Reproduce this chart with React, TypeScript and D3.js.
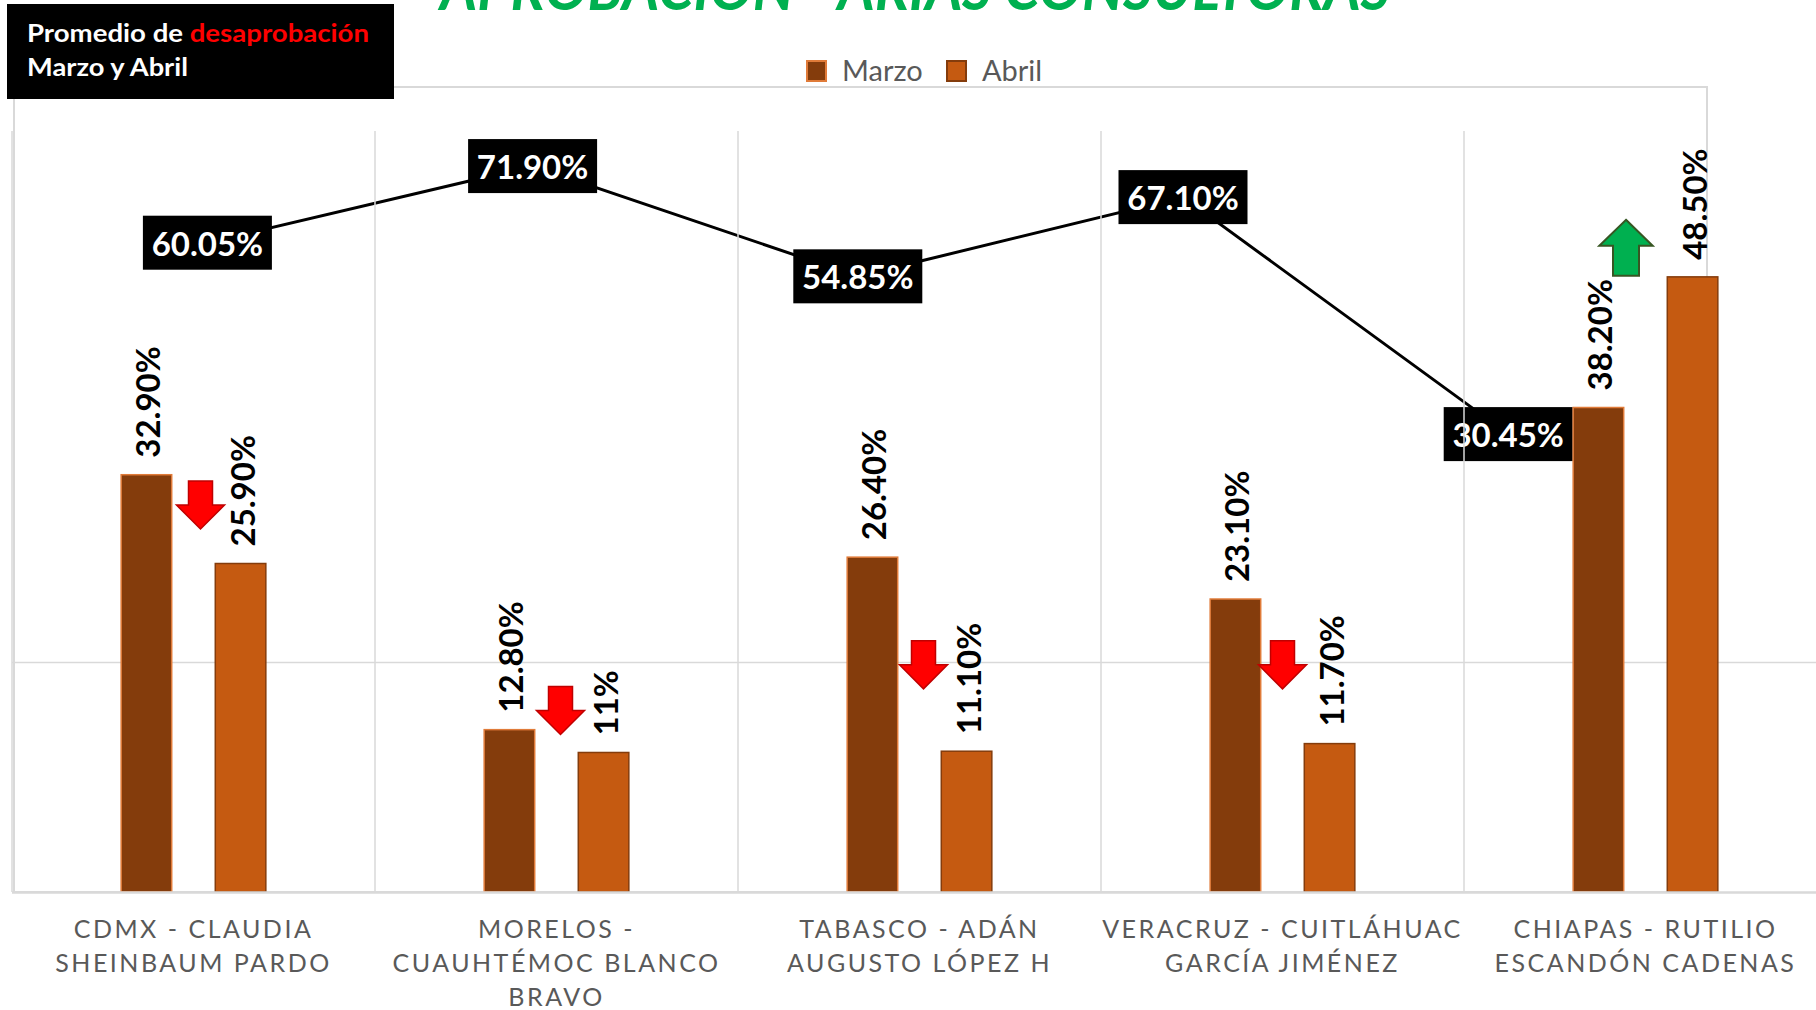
import React from "react";
import * as d3 from "d3";

// ---------- data ----------
const categories = [
  "CDMX - CLAUDIA SHEINBAUM PARDO",
  "MORELOS - CUAUHTÉMOC BLANCO BRAVO",
  "TABASCO - ADÁN AUGUSTO LÓPEZ H",
  "VERACRUZ - CUITLÁHUAC GARCÍA JIMÉNEZ",
  "CHIAPAS - RUTILIO ESCANDÓN CADENAS",
];
const categoryLines = [
  ["CDMX - CLAUDIA", "SHEINBAUM PARDO"],
  ["MORELOS -", "CUAUHTÉMOC BLANCO", "BRAVO"],
  ["TABASCO - ADÁN", "AUGUSTO LÓPEZ H"],
  ["VERACRUZ - CUITLÁHUAC", "GARCÍA JIMÉNEZ"],
  ["CHIAPAS - RUTILIO", "ESCANDÓN CADENAS"],
];
const seriesNames = ["Marzo", "Abril"];
const marzo = [32.9, 12.8, 26.4, 23.1, 38.2];
const abril = [25.9, 11, 11.1, 11.7, 48.5];
const marzoLabels = ["32.90%", "12.80%", "26.40%", "23.10%", "38.20%"];
const abrilLabels = ["25.90%", "11%", "11.10%", "11.70%", "48.50%"];
const promedio = [60.05, 71.9, 54.85, 67.1, 30.45];
const promedioLabels = ["60.05%", "71.90%", "54.85%", "67.10%", "30.45%"];
// trend arrows (annotation): direction and level (top of arrow, in bar-axis %)
const arrowDirections = ["down", "down", "down", "down", "up"];
const arrowLevels = [32.4, 16.2, 19.8, 19.8, 53.0];
const arrowShift = [7, 4, 4, 0, -19.5];
const gridValues = [18.1];

const title = "APROBACIÓN - ARIAS CONSULTORAS";

// ---------- styles ----------
const FONT = "Lato, 'Open Sans', sans-serif";
const COLORS: Record<string, { fill: string; stroke: string }> = {
  Marzo: { fill: "#843C0C", stroke: "#E07B39" },
  Abril: { fill: "#C55A11", stroke: "#843C0C" },
};
const GRID = "#D9D9D9";

export default function App() {
  const W = 1816;
  const H = 1010;

  const x0 = d3.scaleBand<string>().domain(categories).range([12, 1827]).padding(0);
  const x1 = d3
    .scaleBand<string>()
    .domain(seriesNames)
    .range([0, x0.bandwidth()])
    .paddingInner(0.463)
    .paddingOuter(1.16);
  const y = d3.scaleLinear().domain([0, 60]).range([892, 131]);

  const xLine = d3.scalePoint<string>().domain(categories).range([44.8, 1670.8]).padding(0.5);
  const yLine = d3.scaleLinear().domain([0, 80]).range([631, 113.7]);
  const linePath = d3
    .line<number>()
    .x((_, i) => xLine(categories[i])!)
    .y((d) => yLine(d))(promedio)!;

  const values: Record<string, number[]> = { Marzo: marzo, Abril: abril };
  const labels: Record<string, string[]> = { Marzo: marzoLabels, Abril: abrilLabels };

  const boxW = 129;
  const boxH = 54;

  const downArrow = (cx: number, top: number) =>
    `M${cx - 12},${top} L${cx + 12},${top} L${cx + 12},${top + 24} L${cx + 24},${top + 24} L${cx},${top + 48} L${cx - 24},${top + 24} L${cx - 12},${top + 24} Z`;
  const upArrow = (cx: number, top: number) =>
    `M${cx},${top} L${cx + 26.7},${top + 26} L${cx + 13},${top + 26} L${cx + 13},${top + 56} L${cx - 13},${top + 56} L${cx - 13},${top + 26} L${cx - 26.7},${top + 26} Z`;

  const vGrid = [...categories.map((c) => x0(c)!), x0.range()[1]];

  return (
    <svg
      width={W}
      height={H}
      viewBox={`0 0 ${W} ${H}`}
      style={{ position: "absolute", left: 0, top: 0, background: "#fff", fontFamily: FONT }}
    >
      <rect x={0} y={0} width={W} height={H} fill="#fff" />

      {/* title (clipped at top) */}
      <text
        x={440}
        y={9.5}
        textLength={950}
        lengthAdjust="spacingAndGlyphs"
        fill="#00B050"
        fontSize={62}
        fontWeight={700}
        fontStyle="italic"
      >
        {title}
      </text>

      {/* overlay chart border */}
      <rect x={14} y={87} width={1707 - 14} height={892 - 87} fill="none" stroke={GRID} strokeWidth={2} />

      {/* line series */}
      <path d={linePath} fill="none" stroke="#000" strokeWidth={3} />
      {promedio.map((v, i) => {
        const cx = xLine(categories[i])!;
        const cy = yLine(v);
        return (
          <g key={"pl" + i}>
            <rect x={cx - boxW / 2} y={cy - boxH / 2} width={boxW} height={boxH} fill="#000" />
            <text
              x={cx}
              y={cy}
              textAnchor="middle"
              dominantBaseline="central"
              fill="#fff"
              fontSize={33}
              fontWeight={700}
            >
              {promedioLabels[i]}
            </text>
          </g>
        );
      })}

      {/* gridlines */}
      {vGrid.map((gx, i) => (
        <line key={"vg" + i} x1={gx} x2={gx} y1={131} y2={892} stroke={GRID} strokeWidth={1.5} />
      ))}
      {gridValues.map((g, i) => (
        <line key={"hg" + i} x1={12} x2={W} y1={y(g)} y2={y(g)} stroke={GRID} strokeWidth={1.5} />
      ))}

      {/* bars */}
      {categories.map((c, i) => (
        <g key={"b" + i}>
          {seriesNames.map((s) => {
            const bx = x0(c)! + x1(s)!;
            const v = values[s][i];
            const top = y(v);
            return (
              <g key={s}>
                <rect
                  x={bx}
                  y={top}
                  width={x1.bandwidth()}
                  height={y(0) - top}
                  fill={COLORS[s].fill}
                  stroke={COLORS[s].stroke}
                  strokeWidth={1.5}
                />
                <text
                  transform={`translate(${bx + x1.bandwidth() / 2 + 1},${top - 17}) rotate(-90)`}
                  textAnchor="start"
                  dominantBaseline="central"
                  fill="#000"
                  fontSize={33}
                  fontWeight={700}
                >
                  {labels[s][i]}
                </text>
              </g>
            );
          })}
        </g>
      ))}

      {/* baseline */}
      <line x1={12} x2={W} y1={y(0) + 0.5} y2={y(0) + 0.5} stroke={GRID} strokeWidth={2.5} />

      {/* arrows */}
      {categories.map((c, i) => {
        const cx = x0(c)! + x0.bandwidth() / 2 + arrowShift[i];
        const top = y(arrowLevels[i]);
        return arrowDirections[i] === "down" ? (
          <path key={"ar" + i} d={downArrow(cx, top)} fill="#FF0000" stroke="#C00000" strokeWidth={1.5} />
        ) : (
          <path key={"ar" + i} d={upArrow(cx, top)} fill="#00B050" stroke="#375623" strokeWidth={2} />
        );
      })}

      {/* category labels */}
      {categories.map((c, i) => {
        const cx = x0(c)! + x0.bandwidth() / 2;
        return (
          <text key={"cl" + i} textAnchor="middle" fill="#595959" fontSize={25} letterSpacing={2.5}>
            {categoryLines[i].map((ln, j) => (
              <tspan key={j} x={cx} y={938 + j * 34}>
                {ln}
              </tspan>
            ))}
          </text>
        );
      })}

      {/* legend */}
      {seriesNames.map((s, i) => {
        const lx = [807, 947][i];
        return (
          <g key={"lg" + s}>
            <rect x={lx} y={61} width={19} height={20} fill={COLORS[s].fill} stroke={COLORS[s].stroke} strokeWidth={2} />
            <text x={lx + 35} y={81} fill="#595959" fontSize={29}>
              {s}
            </text>
          </g>
        );
      })}

      {/* subtitle box */}
      <rect x={7} y={4} width={387} height={95} fill="#000" />
      <text x={27} y={42} fill="#fff" fontSize={25} fontWeight={700} textLength={342} lengthAdjust="spacingAndGlyphs">
        Promedio de <tspan fill="#FF0000">desaprobación</tspan>
      </text>
      <text x={27} y={76} fill="#fff" fontSize={25} fontWeight={700} textLength={161} lengthAdjust="spacingAndGlyphs">
        Marzo y Abril
      </text>
    </svg>
  );
}
